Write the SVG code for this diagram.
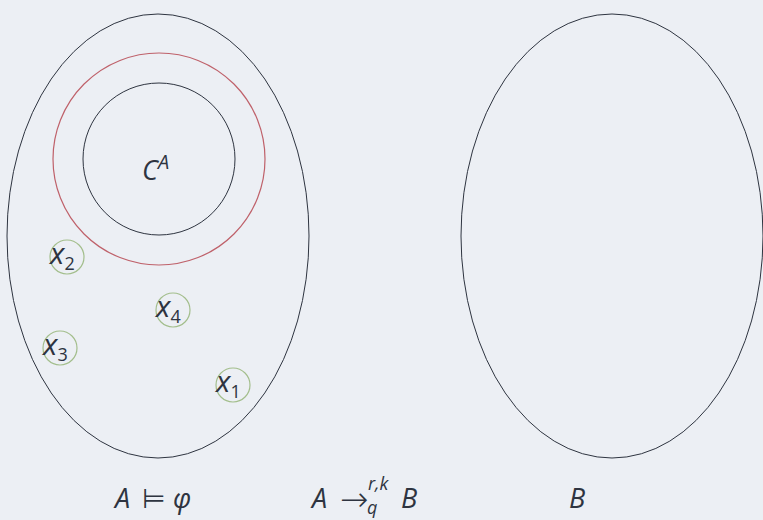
<svg xmlns="http://www.w3.org/2000/svg" width="763" height="520" viewBox="0 0 763 520">
<style>
.bg{fill:#eceff4}
.set{fill:none;stroke:#2e3440;stroke-width:1}
.red{fill:none;stroke:#bf616a;stroke-width:1.2}
.pt{fill:none;stroke:#a3be8c;stroke-width:1.2}
text{font-family:"Open Sans","Noto Sans",sans-serif;fill:#2e3440;font-style:italic}
.m{font-size:27px}
.x{font-size:30px}
.s{font-size:18px}
.n{font-style:normal}
.op{font-family:"DejaVu Sans",sans-serif;font-style:normal;font-weight:200}
</style>
<rect class="bg" x="0" y="0" width="763" height="520"/>
<g id="A">
<ellipse class="set" cx="158" cy="236" rx="151" ry="222"/>
</g>
<g id="B">
<ellipse class="set" cx="612" cy="236" rx="151" ry="222"/>
</g>
<g id="phi-region">
<circle class="red" cx="159" cy="159" r="106"/>
</g>
<g id="CA">
<circle class="set" cx="159" cy="159" r="76"/>
<text class="m" x="142" y="180">C<tspan font-size="20" dy="-11">A</tspan></text>
</g>
<g id="x2">
<circle class="pt" cx="67" cy="257" r="17"/>
<text class="x" x="50" y="264">x<tspan class="s n" dy="6">2</tspan></text>
</g>
<g id="x4">
<circle class="pt" cx="173" cy="310" r="17"/>
<text class="x" x="156" y="317">x<tspan class="s n" dy="6">4</tspan></text>
</g>
<g id="x3">
<circle class="pt" cx="60" cy="348" r="17"/>
<text class="x" x="43" y="355">x<tspan class="s n" dy="6">3</tspan></text>
</g>
<g id="x1">
<circle class="pt" cx="233" cy="385" r="17"/>
<text class="x" x="216" y="392">x<tspan class="s n" dy="6">1</tspan></text>
</g>
<g id="connectors"></g>
<g id="labels">
<text class="m" x="115" y="508">A</text>
<text class="m op" x="142" y="508">⊨</text>
<text class="m" x="173" y="508">φ</text>
<text class="m" x="312" y="508">A</text>
<text class="op" x="340" y="511" font-size="34">→</text>
<text class="s" x="368" y="490">r,k</text>
<text class="s" x="367" y="514">q</text>
<text class="m" x="401" y="508">B</text>
<text class="m" x="569" y="508">B</text>
</g>
</svg>
